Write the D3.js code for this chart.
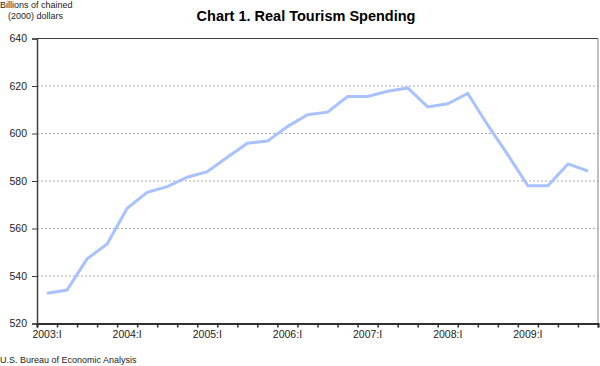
<!DOCTYPE html>
<html>
<head>
<meta charset="utf-8">
<script src="https://cdn.jsdelivr.net/npm/d3@7"></script>
<style>
  html, body { margin: 0; padding: 0; background: #fff; }
  svg { display: block; font-family: "Liberation Sans", Arial, sans-serif; }
</style>
</head>
<body>
<svg id="chart" width="600" height="366"></svg>
<script>
const years = ["2003", "2004", "2005", "2006", "2007", "2008", "2009"];
const quarterNames = ["I", "II", "III", "IV"];
const quarters = years.flatMap(y => quarterNames.map(q => y + ":" + q));
const spending = [
  532.7, 534.1, 547.2, 553.5,
  568.5, 575.2, 577.6, 581.6,
  583.9, 590.0, 595.9, 596.8,
  602.9, 607.9, 609.0, 615.6,
  615.6, 617.8, 619.2, 611.2,
  612.5, 616.9, 603.5, 591.0,
  578.0, 578.0, 587.2, 584.2
];
const yTicks = [520, 540, 560, 580, 600, 620, 640];
const gridValues = [540, 560, 580, 600, 620];

const svg = d3.select("#chart");
const mLeft = 37, mRight = 598, mTop = 38.5, mBottom = 323.5;

const x = d3.scaleBand().domain(quarters).range([mLeft, mRight]).padding(0);
const xEdge = d3.scaleLinear().domain([0, quarters.length]).range([mLeft, mRight]);
const y = d3.scaleLinear().domain([520, 640]).range([mBottom, mTop]);

// gridlines
svg.append("g").selectAll("line").data(gridValues).join("line")
  .attr("x1", mLeft).attr("x2", mRight)
  .attr("y1", d => y(d)).attr("y2", d => y(d))
  .attr("stroke", "#a8a8a8").attr("stroke-width", 1)
  .attr("stroke-dasharray", "2,2");

// frame top & right
svg.append("line").attr("x1", mLeft).attr("x2", mRight).attr("y1", y(640)).attr("y2", y(640))
  .attr("stroke", "#404040").attr("stroke-width", 1);
svg.append("line").attr("x1", mRight).attr("x2", mRight).attr("y1", y(640)).attr("y2", y(520))
  .attr("stroke", "#808080").attr("stroke-width", 1);

// y axis
const yAxis = svg.append("g").attr("transform", `translate(${mLeft},0)`)
  .call(d3.axisLeft(y).tickValues(yTicks).tickSize(5).tickPadding(5).tickFormat(d3.format("d")));
yAxis.select(".domain").attr("stroke", "#404040").attr("stroke-width", 1.5);
yAxis.selectAll(".tick line").attr("stroke", "#404040");
yAxis.selectAll("text").attr("font-size", 10.5).attr("fill", "#222")
  .attr("font-family", "Liberation Sans, Arial, sans-serif");

// x axis boundary ticks
const xAxisTicks = svg.append("g").attr("transform", `translate(0,${mBottom})`)
  .call(d3.axisBottom(xEdge).tickValues(d3.range(0, quarters.length + 1)).tickSize(4).tickFormat(""));
xAxisTicks.select(".domain").attr("stroke", "#303030").attr("stroke-width", 2);
xAxisTicks.selectAll(".tick line").attr("stroke", "#303030").attr("stroke-width", 1.5);

// x labels
const xAxisLabels = svg.append("g").attr("transform", `translate(0,${mBottom})`)
  .call(d3.axisBottom(x).tickSize(0).tickPadding(7)
    .tickFormat(d => d.endsWith(":I") ? d : ""));
xAxisLabels.select(".domain").remove();
xAxisLabels.selectAll("text").attr("font-size", 10.5).attr("fill", "#222")
  .attr("font-family", "Liberation Sans, Arial, sans-serif");

// line
const line = d3.line()
  .x((d, i) => x(quarters[i]) + x.bandwidth() / 2)
  .y(d => y(d));
svg.append("path").datum(spending)
  .attr("d", line)
  .attr("fill", "none")
  .attr("stroke", "#a8c2ff")
  .attr("stroke-width", 3)
  .attr("stroke-linejoin", "miter");

// title
svg.append("text").attr("x", 306).attr("y", 21).attr("text-anchor", "middle")
  .attr("font-size", 14.5).attr("font-weight", "bold").attr("fill", "#000")
  .text("Chart 1. Real Tourism Spending");

// y title
svg.append("text").attr("x", 0).attr("y", 8).attr("font-size", 9).attr("fill", "#222")
  .text("Billions of chained");
svg.append("text").attr("x", 8).attr("y", 19).attr("font-size", 9).attr("fill", "#222")
  .text("(2000) dollars");

// footer
svg.append("text").attr("x", 0).attr("y", 363).attr("font-size", 9).attr("fill", "#222")
  .text("U.S. Bureau of Economic Analysis");
</script>
</body>
</html>
